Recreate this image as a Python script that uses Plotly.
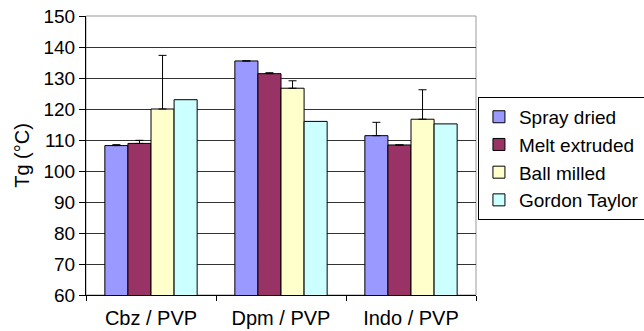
import plotly.graph_objects as go

categories = ["Cbz / PVP", "Dpm / PVP", "Indo / PVP"]
series_names = ["Spray dried", "Melt extruded", "Ball milled", "Gordon Taylor"]
spray_dried = [108.2, 135.5, 111.4]
melt_extruded = [108.9, 131.4, 108.4]
ball_milled = [120.0, 126.7, 116.7]
gordon_taylor = [123.0, 116.0, 115.2]
spray_err = [0.3, None, 4.3]
melt_err = [1.0, 0.3, None]
ball_err = [17.3, 2.4, 9.5]
gordon_err = [None, None, None]
y_ticks = [60, 70, 80, 90, 100, 110, 120, 130, 140, 150]

colors = ["#9999FF", "#993366", "#FFFFCC", "#CCFFFF"]
values = [spray_dried, melt_extruded, ball_milled, gordon_taylor]
errors = [spray_err, melt_err, ball_err, gordon_err]

font = "Liberation Sans, Arial, sans-serif"
fig = go.Figure()
for name, vals, err, col in zip(series_names, values, errors, colors):
    has_err = any(e is not None for e in err)
    fig.add_trace(go.Bar(
        x=categories, y=vals, name=name,
        marker=dict(color=col, line=dict(color="#000000", width=1)),
        error_y=dict(type="data", array=err, symmetric=False,
                     arrayminus=[0, 0, 0], color="#000000", thickness=1,
                     width=4, visible=has_err),
    ))

fig.update_layout(
    width=644, height=331,
    margin=dict(l=86, r=168, t=16, b=36, autoexpand=False),
    paper_bgcolor="white", plot_bgcolor="white",
    barmode="group", bargap=0.29, bargroupgap=0,
    font=dict(family=font, size=20, color="#000000"),
    showlegend=True,
    legend=dict(x=1.005, y=0.71, xanchor="left", yanchor="top",
                bordercolor="#000000", borderwidth=1,
                font=dict(size=19, family=font), tracegroupgap=0,
                itemclick=False),
    shapes=[dict(type="rect", xref="paper", yref="paper", x0=0, x1=1, y0=0, y1=1,
                 line=dict(color="#9a9a9a", width=1), layer="below")],
)
fig.update_xaxes(
    showline=True, linecolor="#000000", linewidth=1,
    ticks="outside", ticklen=5, tickcolor="#000000", tickson="boundaries",
    ticklabelstandoff=5, showgrid=False, automargin=False,
    tickfont=dict(size=20, family=font),
)
fig.update_yaxes(
    range=[60, 150], tickvals=y_ticks,
    showline=True, linecolor="#000000", linewidth=1,
    ticks="outside", ticklen=6, tickcolor="#000000",
    showgrid=True, gridcolor="#333333", gridwidth=1,
    zeroline=False, automargin=False,
    tickfont=dict(size=19, family=font),
    title=dict(text="Tg (°C)", font=dict(size=20, family=font), standoff=8),
)
fig.write_html("out.html", config={"displayModeBar": False},
               post_script="document.body.style.margin='0';document.body.style.overflow='hidden';")
